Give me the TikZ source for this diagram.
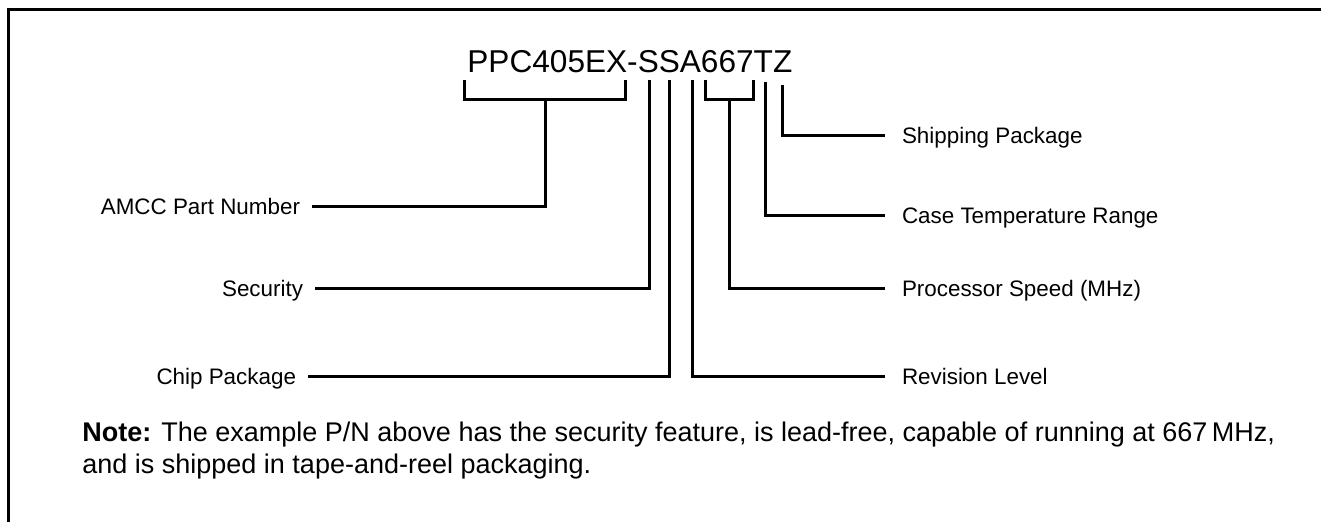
\documentclass[tikz,border=0pt]{standalone}
\usepackage{fontspec}
\setmainfont{Liberation Sans}
\usetikzlibrary{positioning}
\tikzstyle{frame} = [line width=1.5pt]
\tikzstyle{lead} = [line width=1.5pt]
\tikzstyle{desc} = [
    font=\fontsize{11.2}{13}\selectfont,
    inner sep=0pt,
    text height=8pt,
    text depth=0pt
]
\tikzstyle{desc left} = [desc, anchor=east, outer xsep=6pt]
\tikzstyle{desc right} = [desc, anchor=west, outer xsep=8.5pt]
\tikzstyle{partno} = [font=\fontsize{15.8}{18}\selectfont, inner sep=0pt, anchor=base west]
\tikzstyle{note} = [font=\fontsize{13.5}{16}\selectfont, inner sep=0pt, align=left, anchor=base west]

\begin{document}
\begin{tikzpicture}[x=0.5pt, y=-0.5pt]
    \useasboundingbox (0, 0) rectangle (1321, 522);
    \clip (0, 0) rectangle (1321, 522);

    % Frame.
    \draw [frame] (8, 530) |- (1330, 10);

    % Nodes.
    \node (part number) [partno] at (467, 73) {PPC405EX-SSA667TZ};

    \coordinate (amcc left) at (464, 80);
    \coordinate (amcc right) at (625, 80);
    \coordinate (amcc stem) at (545, 100);
    \coordinate (security tip) at (649, 80);
    \coordinate (chip tip) at (669, 80);
    \coordinate (revision tip) at (692, 80);
    \coordinate (speed left) at (705, 80);
    \coordinate (speed right) at (753, 80);
    \coordinate (speed stem) at (729, 100);
    \coordinate (temp tip) at (765, 82);
    \coordinate (ship tip) at (782, 85);

    \node (amcc) [desc left] at (312, 207) {AMCC Part Number};
    \node (security) [desc left] at (315, 289) {Security};
    \node (chip) [desc left] at (308, 377) {Chip Package};

    \node (ship) [desc right] at (885, 136) {Shipping Package};
    \node (temp) [desc right] at (885, 216) {Case Temperature Range};
    \node (speed) [desc right] at (885, 289) {Processor Speed (MHz)};
    \node (revision) [desc right] at (885, 377) {Revision Level};

    \node (note text) [note] at (82, 474) {\textbf{Note:} The example P/N above has the security feature, is lead-free, capable of running at 667\,MHz,\\and is shipped in tape-and-reel packaging.};

    % Paths.

    % Brackets.
    \draw [lead] (amcc left) |- (amcc stem) -| (amcc right);
    \draw [lead] (speed left) |- (speed stem) -| (speed right);

    % Left side.
    \draw [lead] (amcc) -| (amcc stem);
    \draw [lead] (security) -| (security tip);
    \draw [lead] (chip) -| (chip tip);

    % Right side.
    \draw [lead] (ship tip) |- (ship);
    \draw [lead] (temp tip) |- (temp);
    \draw [lead] (speed stem) |- (speed);
    \draw [lead] (revision tip) |- (revision);
\end{tikzpicture}
\end{document}
